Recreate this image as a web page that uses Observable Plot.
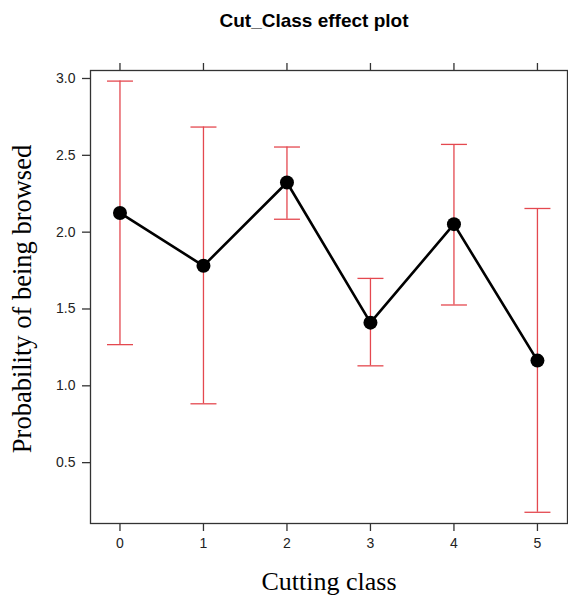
<!DOCTYPE html>
<html>
<head>
<meta charset="utf-8">
<script src="https://cdn.jsdelivr.net/npm/d3@7"></script>
<script src="https://cdn.jsdelivr.net/npm/@observablehq/plot@0.6"></script>
<style>
  html, body { margin: 0; padding: 0; background: #fff; }
  svg { display: block; }
</style>
</head>
<body>
<div id="chart"></div>
<script>
const cuttingClass = [0, 1, 2, 3, 4, 5];
const fitValues   = [2.125, 1.781, 2.323, 1.411, 2.052, 1.164];
const lowerValues = [1.268, 0.883, 2.084, 1.130, 1.526, 0.177];
const upperValues = [2.983, 2.684, 2.554, 1.699, 2.571, 2.154];
const yTicks = [0.5, 1.0, 1.5, 2.0, 2.5, 3.0];
const titleText = "Cut_Class effect plot";
const xLabel = "Cutting class";
const yLabel = "Probability of being browsed";

const data = cuttingClass.map((c, i) => ({cls: c, fit: fitValues[i], lower: lowerValues[i], upper: upperValues[i]}));

const capSymbol = {
  draw(ctx, size) {
    const r = Math.sqrt(size / Math.PI);
    ctx.moveTo(-r, 0);
    ctx.lineTo(r, 0);
  }
};

const red = "#e4484f";
const axisColor = "#333";
const sans = "Liberation Sans, Arial, sans-serif";
const serif = "Liberation Serif, Times New Roman, serif";

const chart = Plot.plot({
  width: 568,
  height: 595,
  marginLeft: 90,
  marginRight: 1,
  marginTop: 70,
  marginBottom: 72,
  style: {fontFamily: sans, fontSize: "14px", color: axisColor, background: "#fff"},
  x: {domain: [-0.353, 5.36]},
  y: {domain: [0.104, 3.052]},
  marks: [
    Plot.frame({stroke: axisColor, strokeWidth: 1.3}),
    Plot.axisX(cuttingClass, {anchor: "bottom", tickSize: 8, tickPadding: 7, tickFormat: d => String(d), label: null, stroke: axisColor, strokeWidth: 1.3, fill: "#222", fontSize: 14}),
    Plot.axisX(cuttingClass, {anchor: "top", tickSize: 8, tickFormat: () => "", label: null, stroke: axisColor, strokeWidth: 1.3}),
    Plot.axisY(yTicks, {anchor: "left", tickSize: 8, tickPadding: 7, tickFormat: d3.format(".1f"), label: null, stroke: axisColor, strokeWidth: 1.3, fill: "#222", fontSize: 14}),
    Plot.axisY(yTicks, {anchor: "right", tickSize: 8, tickFormat: () => "", label: null, stroke: axisColor, strokeWidth: 1.3}),
    Plot.ruleX(data, {x: "cls", y1: "lower", y2: "upper", stroke: red, strokeWidth: 1.3}),
    Plot.dot(data, {x: "cls", y: "upper", symbol: capSymbol, r: 13, stroke: red, strokeWidth: 1.3, fill: "none"}),
    Plot.dot(data, {x: "cls", y: "lower", symbol: capSymbol, r: 13, stroke: red, strokeWidth: 1.3, fill: "none"}),
    Plot.line(data, {x: "cls", y: "fit", stroke: "#000", strokeWidth: 2.6}),
    Plot.dot(data, {x: "cls", y: "fit", r: 7, fill: "#000", stroke: "none"}),
    Plot.text([titleText], {frameAnchor: "top", dx: -15, dy: -57, text: d => d, fontFamily: sans, fontWeight: "bold", fontSize: 19, fill: "#000"}),
    Plot.text([xLabel], {frameAnchor: "bottom", dy: 66, text: d => d, fontFamily: serif, fontSize: 26, fill: "#000"}),
    Plot.text([yLabel], {frameAnchor: "left", dx: -68, dy: 2, rotate: -90, textAnchor: "middle", text: d => d, fontFamily: serif, fontSize: 26.5, fill: "#000"})
  ]
});

document.getElementById("chart").appendChild(chart);
</script>
</body>
</html>
